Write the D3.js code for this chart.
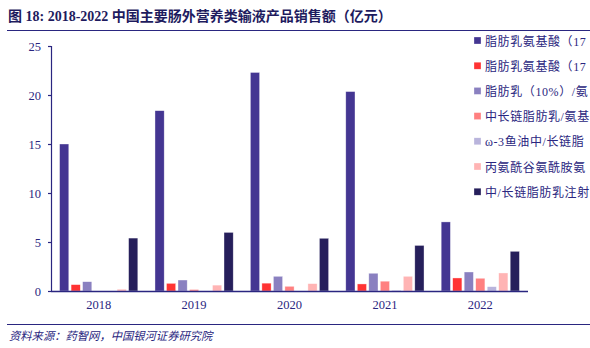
<!DOCTYPE html>
<html><head><meta charset="utf-8">
<script src="https://cdn.jsdelivr.net/npm/d3@7"></script>
<style>
html,body{margin:0;padding:0;background:#fff;overflow:hidden;}
svg{display:block;}
</style></head>
<body><svg id="c" width="590" height="348"></svg>
<script>
const years = ["2018","2019","2020","2021","2022"];
const seriesNames = [
  "脂肪乳氨基酸（17）葡萄糖（11%）注射液",
  "脂肪乳氨基酸（17）葡萄糖（19%）注射液",
  "脂肪乳（10%）/氨基酸（15）/葡萄糖（20%）注射液",
  "中长链脂肪乳/氨基酸（16）/葡萄糖（16%）注射液",
  "ω-3鱼油中/长链脂肪乳注射液",
  "丙氨酰谷氨酰胺氨基酸注射液",
  "中/长链脂肪乳注射液"
];
const s1 = [15.0, 18.4, 22.3, 20.35, 7.05];
const s2 = [0.65, 0.78, 0.8, 0.72, 1.33];
const s3 = [0.95, 1.12, 1.5, 1.81, 1.94];
const s4 = [0, 0.15, 0.48, 1.0, 1.3];
const s5 = [0, 0, 0, 0.08, 0.44];
const s6 = [0.18, 0.6, 0.75, 1.5, 1.84];
const s7 = [5.4, 5.98, 5.38, 4.65, 4.05];
const seriesValues = [s1, s2, s3, s4, s5, s6, s7];
const colors = ["#443692", "#ff3333", "#8a80c0", "#ff8080", "#b9b4dc", "#ffb4b4", "#261f5b"];
const yTicks = [0, 5, 10, 15, 20, 25];

const svg = d3.select("#c");
const navy = "#2a2680";
const serif = "'Liberation Serif','Times New Roman','Noto Sans CJK SC',serif";

// title
svg.append("text").attr("x", 8).attr("y", 21)
  .attr("font-family", "'Liberation Serif','Noto Sans CJK SC',serif")
  .attr("font-weight", "bold").attr("font-size", 14).attr("fill", "#1e1b5e")
  .text("图 18:   2018-2022 中国主要肠外营养类输液产品销售额（亿元）");
svg.append("line").attr("x1", 7).attr("x2", 590).attr("y1", 30.5).attr("y2", 30.5)
  .attr("stroke", "#2a2680").attr("stroke-width", 1.2);
svg.append("line").attr("x1", 7).attr("x2", 590).attr("y1", 324.5).attr("y2", 324.5)
  .attr("stroke", "#2a2680").attr("stroke-width", 1.2);
svg.append("text").attr("x", 9).attr("y", 340)
  .attr("font-family", "'Noto Sans CJK SC',sans-serif").attr("font-style", "italic")
  .attr("font-size", 11.3).attr("fill", "#2a2680")
  .text("资料来源：药智网，中国银河证券研究院");

const pLeft = 51, pRight = 528, pTop = 46, pBottom = 291;
const x0 = d3.scaleBand().domain(years).range([pLeft, pRight]).paddingInner(0.18).paddingOuter(0.09);
const x1 = d3.scaleBand().domain(d3.range(7)).range([0, x0.bandwidth()]).paddingInner(0.2);
const y = d3.scaleLinear().domain([0, 25]).range([pBottom, pTop]);

const g = svg.append("g");
seriesValues.forEach((vals, si) => {
  g.selectAll(null).data(vals).enter().append("rect")
    .attr("x", (d, i) => x0(years[i]) + x1(si))
    .attr("y", d => y(d))
    .attr("width", x1.bandwidth())
    .attr("height", d => y(0) - y(d))
    .attr("fill", colors[si])
    .attr("stroke", "rgba(255,255,255,0.6)").attr("stroke-width", 0.6);
});

// y axis
const ya = svg.append("g").attr("transform", `translate(${pLeft},0)`)
  .call(d3.axisLeft(y).tickValues(yTicks).tickSize(3).tickPadding(7));
ya.select(".domain").attr("stroke", navy).attr("stroke-width", 1.2);
ya.selectAll(".tick line").attr("stroke", navy).attr("stroke-width", 1.2);
ya.selectAll("text").attr("font-family", serif).attr("font-size", 12.5).attr("fill", navy);

// x axis
const xa = svg.append("g").attr("transform", `translate(0,${pBottom})`)
  .call(d3.axisBottom(x0).tickSize(0).tickPadding(9));
xa.select(".domain").attr("stroke", navy).attr("stroke-width", 1.5).attr("d", `M${pLeft},0.5H${pRight}`);
xa.selectAll("text").attr("font-family", serif).attr("font-size", 12.5).attr("fill", navy);

// legend (the panel is cut at the right edge, as in the source figure)
const lg = svg.append("g");
const legX = 485, maxW = 590 - legX;
seriesNames.forEach((name, i) => {
  const yy = 41 + i * 25.2;
  lg.append("rect").attr("x", 474).attr("y", yy - 4).attr("width", 7).attr("height", 7)
    .attr("fill", colors[i]).attr("stroke", "rgba(255,255,255,0.6)").attr("stroke-width", 0.5);
  const t = lg.append("text").attr("x", legX).attr("y", yy + 4.5)
    .attr("font-family", serif).attr("font-size", 12).attr("fill", navy)
    .attr("letter-spacing", 0.6)
    .text(name);
  let s = name;
  while (s.length > 1 && t.node().getComputedTextLength() > maxW) {
    s = s.slice(0, -1);
    t.text(s);
  }
});
</script>
</body></html>
